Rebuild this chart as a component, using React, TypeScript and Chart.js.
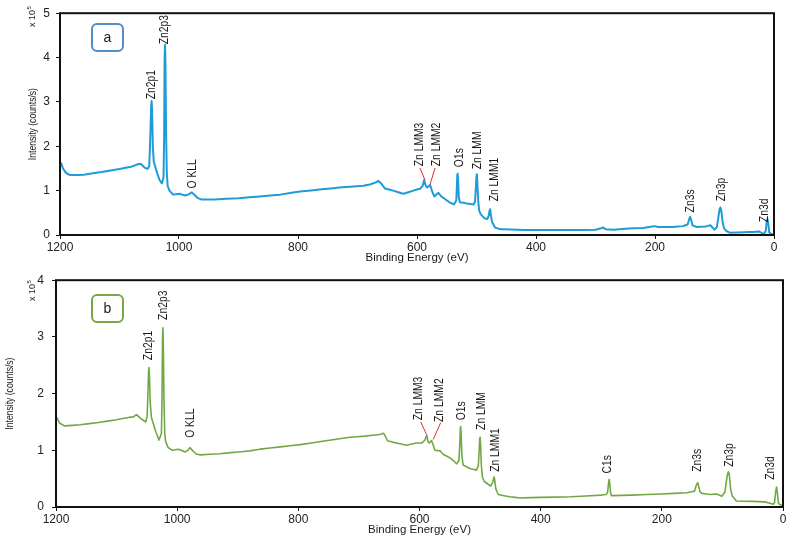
import React, { useEffect, useRef } from "react";
import { Chart, registerables } from "chart.js";
Chart.register(...registerables);

// ---------- Panel a (blue) ----------
const energyA = [
  1200, 1198, 1195, 1190, 1183, 1160, 1130, 1100, 1080, 1068, 1064, 1058, 1053,
  1050, 1048, 1046.8, 1046, 1045.2, 1044, 1042.5, 1038, 1033, 1029,
  1026, 1025, 1024.2, 1023.5, 1022.8, 1021.8, 1020.5, 1019, 1016, 1010,
  1000, 990, 983, 979, 975, 968, 962, 940, 900, 864, 830, 797,
  760, 730, 712, 690, 679, 670, 665, 660, 654, 640, 623, 606, 594, 590, 588, 585, 582.7, 578, 575, 571,
  564, 560, 556, 550, 544.5, 538,
  534, 533, 532.2, 531.6, 530.8, 529.8, 528, 516, 505,
  502.5, 501, 500, 499.3, 498.3, 497, 495.5, 493, 487, 482,
  479.5, 478, 477, 475.8, 474, 469, 460, 443, 420, 400, 350, 300, 290, 287, 283, 270, 250, 220, 205, 202, 195, 170, 153,
  145, 142.5, 141, 139.5, 137, 130, 115, 107, 100,
  96, 93.5, 91.5, 90, 88.5, 86.5, 84, 80, 74, 50, 35, 25, 18,
  14, 12.3, 11, 9.8, 8, 3, 0,
];
const intensityA = [
  1.53, 1.62, 1.5, 1.4, 1.35, 1.36, 1.42, 1.49, 1.54, 1.6, 1.6, 1.52, 1.49,
  1.55, 2.3, 2.9, 3.02, 2.8, 2.0, 1.66, 1.45, 1.25, 1.16,
  1.3, 2.2, 4.0, 4.29, 3.9, 2.4, 1.4, 1.1, 1.0, 0.91,
  0.93, 0.89, 0.92, 0.96, 0.92, 0.83, 0.8, 0.8, 0.83, 0.87, 0.91, 0.98,
  1.03, 1.07, 1.09, 1.11, 1.14, 1.18, 1.22, 1.16, 1.05, 1.0, 0.93, 1.0, 1.05, 1.12, 1.24, 1.1, 1.07, 1.13, 1.0, 0.87,
  0.95, 0.88, 0.84, 0.78, 0.73, 0.69,
  0.78, 1.1, 1.36, 1.38, 1.2, 0.85, 0.74, 0.71, 0.69,
  0.75, 1.1, 1.33, 1.37, 1.1, 0.75, 0.55, 0.47, 0.38, 0.36,
  0.43, 0.55, 0.58, 0.45, 0.3, 0.17, 0.13, 0.125, 0.11, 0.11, 0.11, 0.12, 0.15, 0.17, 0.13, 0.12, 0.14, 0.16, 0.19, 0.2, 0.18, 0.18, 0.2,
  0.24, 0.36, 0.41, 0.35, 0.22, 0.18, 0.19, 0.22, 0.12,
  0.18, 0.4, 0.58, 0.62, 0.55, 0.3, 0.15, 0.09, 0.05, 0.06, 0.07, 0.08, 0.02,
  0.08, 0.3, 0.36, 0.28, 0.06, 0.01, 0.0,
];

// ---------- Panel b (green) ----------
const energyB = [
  1200, 1198, 1194, 1186, 1160, 1130, 1100, 1080, 1072, 1067, 1060, 1052,
  1049.5, 1048, 1047.2, 1046.5, 1045.7, 1044.5, 1042.5, 1036, 1030,
  1026, 1025, 1024.2, 1023.5, 1022.8, 1021.8, 1020.5, 1019, 1015, 1008,
  998, 987, 982, 979, 975, 968, 962, 930, 900, 880, 863, 830, 797, 760, 715,
  690, 665, 659, 655, 653, 643, 621, 605, 596, 591, 588, 586, 584, 580, 577, 574.6, 566, 561, 550, 544, 538.7,
  535, 533.5, 532.6, 532, 531.2, 530, 528, 517, 506,
  503, 501.5, 500.6, 500, 499.2, 498, 496, 493, 482.7,
  479, 477.6, 476.7, 475.6, 474, 470, 451, 434, 400, 350, 300, 292,
  289.5, 288, 287, 286, 284.5, 283, 250, 200, 159,
  146, 143, 141, 139.5, 137, 134, 120, 110, 101,
  96, 93.5, 91.5, 90, 88.5, 86.5, 84, 77, 50, 30, 16,
  14, 12, 10.7, 9.5, 7.5, 6, 0,
];
const intensityB = [
  1.53, 1.57, 1.48, 1.43, 1.45, 1.49, 1.54, 1.58, 1.59, 1.63, 1.56, 1.5,
  1.6, 2.1, 2.38, 2.46, 2.3, 1.85, 1.58, 1.35, 1.18,
  1.3, 1.9, 2.95, 3.16, 2.85, 1.9, 1.3, 1.15, 1.05, 1.0,
  1.02, 0.97, 1.0, 1.05, 1.0, 0.93, 0.92, 0.94, 0.97, 0.99, 1.02, 1.06, 1.1, 1.16, 1.23,
  1.25, 1.28, 1.3, 1.22, 1.17, 1.14, 1.09, 1.13, 1.13, 1.18, 1.27, 1.15, 1.13, 1.17, 1.08, 1.0, 0.99, 0.93, 0.87, 0.82, 0.76,
  0.82, 1.1, 1.38, 1.42, 1.25, 0.9, 0.74, 0.68, 0.65,
  0.72, 1.0, 1.2, 1.23, 1.1, 0.75, 0.52, 0.45, 0.37,
  0.44, 0.51, 0.53, 0.45, 0.32, 0.22, 0.18, 0.16, 0.17, 0.18, 0.21, 0.22,
  0.26, 0.42, 0.49, 0.42, 0.25, 0.2, 0.21, 0.23, 0.25,
  0.28, 0.39, 0.43, 0.38, 0.27, 0.24, 0.22, 0.23, 0.19,
  0.26, 0.45, 0.59, 0.62, 0.56, 0.32, 0.2, 0.105, 0.1, 0.09, 0.05,
  0.08, 0.28, 0.35, 0.27, 0.07, 0.05, 0.02,
];

// ---------- Axis ticks ----------
const xTickStep = 200;
const xMin = 0;
const xMax = 1200;
const yMaxA = 5;
const yMaxB = 4;

// ---------- Peak labels: text, anchor energy (eV), anchor intensity (x10^5) ----------
const labelTextA = ["Zn2p1", "Zn2p3", "O KLL", "Zn LMM3", "Zn LMM2", "O1s", "Zn LMM", "Zn LMM1", "Zn3s", "Zn3p", "Zn3d"];
const labelEnergyA = [1045.4, 1023.5, 976.5, 596, 567, 529, 498.7, 469, 140, 88, 15];
const labelIntensityA = [3.06, 4.3, 1.05, 1.55, 1.55, 1.53, 1.48, 0.76, 0.51, 0.76, 0.29];
// leader lines [e1, i1, e2, i2]
const leadersA = [
  [595, 1.51, 586.6, 1.24],
  [569.7, 1.51, 578, 1.14],
];

const labelTextB = ["Zn2p1", "Zn2p3", "O KLL", "Zn LMM3", "Zn LMM2", "O1s", "Zn LMM", "Zn LMM1", "C1s", "Zn3s", "Zn3p", "Zn3d"];
const labelEnergyB = [1046.5, 1023, 977, 602, 566, 530.5, 497.5, 474.4, 290, 141, 88, 20.6];
const labelIntensityB = [2.59, 3.3, 1.22, 1.53, 1.5, 1.53, 1.36, 0.62, 0.59, 0.62, 0.71, 0.48];
const leadersB = [
  [598, 1.5, 588.4, 1.28],
  [565, 1.49, 577.4, 1.19],
];

const FONT = "'Liberation Sans', Arial, Helvetica, sans-serif";

type PanelCfg = {
  energy: number[];
  intensity: number[];
  yMax: number;
  color: string;
  lineWidth: number;
  boxColor: string;
  letter: string;
  labelText: string[];
  labelEnergy: number[];
  labelIntensity: number[];
  leaders: number[][];
  width: number;
  height: number;
  yAxisWidth: number;
  xAxisHeight: number;
  padTop: number;
  padRight: number;
  yTickPad: number;
  yTitleX: number;
  exponentY: number;
  boxTop: number;
};

function drawRotated(ctx: CanvasRenderingContext2D, text: string, x: number, y: number, px: number, condense: number, align: CanvasTextAlign) {
  ctx.save();
  ctx.translate(x, y);
  ctx.rotate(-Math.PI / 2);
  ctx.scale(condense, 1);
  ctx.font = `${px}px ${FONT}`;
  ctx.textAlign = align;
  ctx.textBaseline = "middle";
  ctx.fillText(text, 0, 0);
  ctx.restore();
}

function makePlugin(cfg: PanelCfg) {
  return {
    id: "deco" + cfg.letter,
    afterDraw(chart: any) {
      const { ctx, chartArea: ca } = chart;
      const xs = chart.scales.x;
      const ys = chart.scales.y;
      ctx.save();
      // frame
      ctx.strokeStyle = "#111";
      ctx.lineWidth = 2;
      ctx.strokeRect(ca.left, ca.top, ca.right - ca.left, ca.bottom - ca.top);

      // peak labels
      ctx.fillStyle = "#1a1a1a";
      cfg.labelText.forEach((t, i) => {
        const px = xs.getPixelForValue(cfg.labelEnergy[i]);
        const py = ys.getPixelForValue(cfg.labelIntensity[i]);
        drawRotated(ctx, t, px, py, 12, 0.86, "left");
      });
      // leader lines
      ctx.strokeStyle = "#e02a2a";
      ctx.lineWidth = 1;
      cfg.leaders.forEach((l) => {
        ctx.beginPath();
        ctx.moveTo(xs.getPixelForValue(l[0]), ys.getPixelForValue(l[1]));
        ctx.lineTo(xs.getPixelForValue(l[2]), ys.getPixelForValue(l[3]));
        ctx.stroke();
      });

      // axis titles
      ctx.fillStyle = "#1a1a1a";
      drawRotated(ctx, "Intensity (counts/s)", cfg.yTitleX, (ca.top + ca.bottom) / 2, 10, 0.86, "center");
      ctx.font = `11.5px ${FONT}`;
      ctx.textAlign = "center";
      ctx.textBaseline = "middle";
      ctx.fillText("Binding Energy (eV)", (ca.left + ca.right) / 2, ca.bottom + 23);

      // exponent "x 10^5"
      ctx.save();
      ctx.translate(33, cfg.exponentY);
      ctx.rotate(-Math.PI / 2);
      ctx.font = `9px ${FONT}`;
      ctx.textAlign = "left";
      ctx.textBaseline = "middle";
      ctx.fillText("x 10", 0, 0);
      const w = ctx.measureText("x 10").width;
      ctx.font = `6px ${FONT}`;
      ctx.fillText("5", w + 0.5, -4);
      ctx.restore();

      // panel letter box
      const bx = 92, by = cfg.boxTop, bw = 31, bh = 27;
      ctx.fillStyle = "#fff";
      ctx.strokeStyle = cfg.boxColor;
      ctx.lineWidth = 2;
      ctx.beginPath();
      (ctx as any).roundRect(bx, by, bw, bh, 5);
      ctx.fill();
      ctx.stroke();
      ctx.fillStyle = "#1a1a1a";
      ctx.font = `14px ${FONT}`;
      ctx.textAlign = "center";
      ctx.textBaseline = "middle";
      ctx.fillText(cfg.letter, bx + bw / 2, by + bh / 2 + 0.5);
      ctx.restore();
    },
  };
}

function Panel({ cfg }: { cfg: PanelCfg }) {
  const ref = useRef<HTMLCanvasElement | null>(null);
  useEffect(() => {
    if (!ref.current) return;
    const points = cfg.energy.map((e, i) => ({ x: e, y: cfg.intensity[i] }));
    const chart = new Chart(ref.current, {
      type: "line",
      data: {
        datasets: [
          {
            data: points,
            borderColor: cfg.color,
            borderWidth: cfg.lineWidth,
            pointRadius: 0,
            // a tiny tension keeps segments straight but avoids the pixel-averaging fast path
            tension: 0.001,
            fill: false,
            borderJoinStyle: "round",
          },
        ],
      },
      options: {
        animation: false,
        responsive: false,
        devicePixelRatio: window.devicePixelRatio || 1,
        layout: { padding: { top: cfg.padTop, right: cfg.padRight, left: 0, bottom: 0 } },
        plugins: { legend: { display: false }, tooltip: { enabled: false }, title: { display: false } },
        scales: {
          x: {
            type: "linear",
            reverse: true,
            min: xMin,
            max: xMax,
            ticks: {
              stepSize: xTickStep,
              color: "#222",
              font: { family: FONT, size: 12 },
              padding: 1,
              maxRotation: 0,
              callback: (v: any) => String(v),
            },
            grid: { display: true, drawOnChartArea: false, drawTicks: true, tickLength: 4, color: "#111" },
            border: { display: false },
            afterFit: (s: any) => {
              s.height = cfg.xAxisHeight;
            },
          },
          y: {
            type: "linear",
            min: 0,
            max: cfg.yMax,
            ticks: {
              stepSize: 1,
              color: "#222",
              font: { family: FONT, size: 12 },
              padding: cfg.yTickPad,
              callback: (v: any) => String(v),
            },
            grid: { display: true, drawOnChartArea: false, drawTicks: true, tickLength: 4, color: "#111" },
            border: { display: false },
            afterFit: (s: any) => {
              s.width = cfg.yAxisWidth;
            },
          },
        },
      },
      plugins: [makePlugin(cfg)],
    });
    return () => chart.destroy();
  }, [cfg]);
  return (
    <canvas
      ref={ref}
      width={cfg.width}
      height={cfg.height}
      style={{ display: "block", width: cfg.width, height: cfg.height }}
    />
  );
}

const panelA: PanelCfg = {
  energy: energyA,
  intensity: intensityA,
  yMax: yMaxA,
  color: "#1f9bd8",
  lineWidth: 2,
  boxColor: "#4f8ec8",
  letter: "a",
  labelText: labelTextA,
  labelEnergy: labelEnergyA,
  labelIntensity: labelIntensityA,
  leaders: leadersA,
  width: 789,
  height: 265,
  yAxisWidth: 60,
  xAxisHeight: 30,
  padTop: 6,
  padRight: 15,
  yTickPad: 6,
  yTitleX: 33,
  exponentY: 27,
  boxTop: 24,
};

const panelB: PanelCfg = {
  energy: energyB,
  intensity: intensityB,
  yMax: yMaxB,
  color: "#72a843",
  lineWidth: 1.6,
  boxColor: "#74a84a",
  letter: "b",
  labelText: labelTextB,
  labelEnergy: labelEnergyB,
  labelIntensity: labelIntensityB,
  leaders: leadersB,
  width: 789,
  height: 273,
  yAxisWidth: 56,
  xAxisHeight: 31,
  padTop: 15,
  padRight: 6,
  yTickPad: 8,
  yTitleX: 10,
  exponentY: 36,
  boxTop: 30,
};

export default function App() {
  return (
    <div style={{ position: "fixed", left: 0, top: 0, width: 789, height: 538, background: "#fff" }}>
      <Panel cfg={panelA} />
      <Panel cfg={panelB} />
    </div>
  );
}
